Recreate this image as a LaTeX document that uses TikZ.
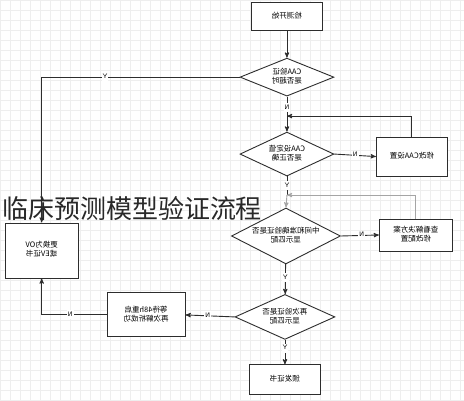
\documentclass[tikz,border=0pt]{standalone}
\usepackage{fontspec}
\usepackage{graphicx}
\usepackage{tikz}
\usetikzlibrary{arrows,shapes.geometric}
\newfontfamily\cjk{Noto Sans CJK SC}
\newcommand\flip[1]{\reflectbox{\begin{tabular}{@{}c@{}}#1\end{tabular}}}
\definecolor{line_gray}{RGB}{45,45,45}
\definecolor{back_gray}{RGB}{165,165,165}
\definecolor{grid_gray}{RGB}{238,238,238}
\definecolor{title_gray}{RGB}{40,40,40}

\begin{document}
\begin{tikzpicture}[->,>=stealth',x=1pt,y=-1pt,line width=0.9pt]
    \tikzstyle{box}=[draw=line_gray, rectangle, fill=white, text=black, inner sep=1pt, font=\cjk\fontsize{7.5}{9}\selectfont]
    \tikzstyle{ask}=[draw=line_gray, diamond, aspect=2.3, inner sep=0pt, fill=white, text=black, font=\cjk\fontsize{7.5}{9}\selectfont]
    \tikzstyle{lab}=[fill=white, inner sep=1pt, text=black, font=\sffamily\fontsize{6.5}{7}\selectfont]

    % background grid
    \fill[white] (0,0) rectangle (464,400);
    \draw[-,grid_gray,line width=0.4pt,step=10pt] (0,0) grid (464,400);
    \useasboundingbox (0,0) rectangle (464,400);

    \node[box,minimum width=72pt,minimum height=28pt] (start)  at (287,16.5)  {\flip{检测开始}};
    \node[ask,minimum width=94pt,minimum height=38pt] (q1)     at (287,77)    {\flip{CAA验证\\是否超时}};
    \node[ask,minimum width=94pt,minimum height=44pt] (q2)     at (287,154)   {\flip{CAA设定值\\是否正确}};
    \node[box,minimum width=71pt,minimum height=39pt] (fixcaa) at (412,156.5) {\flip{修改CAA设置}};
    \node[ask,minimum width=105pt,minimum height=56pt] (q3)    at (286,236)   {\flip{中间和准确验证是否\\显示匹配}};
    \node[box,minimum width=73pt,minimum height=32pt] (plan)   at (416,235)   {\flip{查看解决方案\\修改配置}};
    \node[ask,minimum width=100pt,minimum height=45pt] (q4)    at (285,317)   {\flip{再次验证是否\\显示匹配}};
    \node[box,minimum width=78pt,minimum height=44pt] (wait)   at (146,315)   {\flip{等待48h重启\\再次解析成功}};
    \node[box,minimum width=73pt,minimum height=55pt] (redo)   at (41.5,250.5) {\flip{更换为OV\\或EV证书}};
    \node[box,minimum width=72pt,minimum height=30pt] (issue)  at (285,380)   {\flip{颁发证书}};

    \coordinate (m1) at (287,116);
    \coordinate (m2) at (287,195);

    \path
     (start) edge[line_gray] (q1)
     (q1) edge[line_gray] node[lab,pos=0.32]{\flip{N}} (q2)
     (q2.east) edge[line_gray] node[lab,pos=0.5]{\flip{N}} (fixcaa.west)
     (q2.south) edge[-,line_gray] node[lab,pos=0.5]{\flip{Y}} (m2)
     (m2) edge[back_gray] (q3.north)
     (q3.east) edge[line_gray] node[lab,pos=0.55]{\flip{N}} (plan.west)
     (q3) edge[line_gray] node[lab,pos=0.45]{\flip{Y}} (q4)
     (q4.west) edge[line_gray] node[lab,pos=0.55]{\flip{N}} (wait.east)
     (q4) edge[line_gray] node[lab,pos=0.35]{\flip{Y}} (issue)
     ;
    \draw[line_gray] (q1.west) -| node[lab,pos=0.34]{\flip{Y}} (redo.north);
    \draw[line_gray] (wait.west) -| node[lab,pos=0.28]{\flip{N}} (redo.south);
    \draw[line_gray] (fixcaa.north) |- (m1);
    \draw[back_gray] (plan.north) |- (m2);

    \node[text=title_gray, font=\cjk\fontsize{26}{28}\selectfont, inner sep=0pt] (title) at (132,209) {临床预测模型验证流程};
\end{tikzpicture}
\end{document}
